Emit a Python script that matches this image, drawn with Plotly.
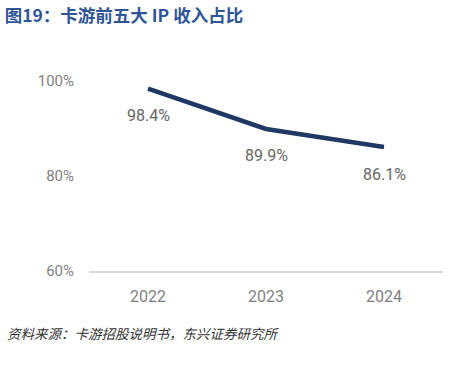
import plotly.graph_objects as go

years = ["2022", "2023", "2024"]
share = [98.4, 89.9, 86.1]
labels = ["98.4%", "89.9%", "86.1%"]
y_ticks = [60, 80, 100]
y_tick_text = ["60%", "80%", "100%"]

xpos = list(range(len(years)))

fig = go.Figure()
fig.add_trace(go.Scatter(
    x=xpos, y=share, mode="lines",
    line=dict(color="#1F3864", width=4.5),
    hoverinfo="skip", showlegend=False,
))
for x, y, t in zip(xpos, share, labels):
    fig.add_annotation(x=x, y=y, text=t, showarrow=False, yshift=-27,
                       font=dict(family="Roboto", size=16, color="#666666"))

fig.update_layout(
    width=471, height=369,
    margin=dict(l=89, r=28, t=81, b=98),
    paper_bgcolor="white", plot_bgcolor="white",
    title=dict(text="<b>图19：卡游前五大 IP 收入占比</b>", x=0.01, xanchor="left",
               y=1 - 16 / 369, yanchor="middle", yref="container",
               font=dict(family="Noto Sans CJK SC", size=17.5, color="#2F5597")),
    xaxis=dict(range=[-0.5, 2.5], tickvals=xpos, ticktext=years, showgrid=False,
               zeroline=False, showline=True, linecolor="#D9D9D9",
               linewidth=2, ticks="", tickfont=dict(family="Roboto", size=16, color="#7F7F7F"),
               ticklabelstandoff=10),
    yaxis=dict(range=[60, 100], tickvals=y_ticks, ticktext=y_tick_text, showgrid=False,
               zeroline=False, showline=False, ticks="",
               tickfont=dict(family="Roboto", size=15, color="#7F7F7F"),
               ticklabelstandoff=14),
)
fig.add_annotation(xref="paper", yref="paper", x=-84 / 354, y=-(333 - 271) / 190,
                   xanchor="left", yanchor="middle", showarrow=False,
                   text="<i>资料来源：卡游招股说明书，东兴证券研究所</i>",
                   font=dict(family="Noto Sans CJK SC", size=13.5, color="#333333"))
fig.write_html("out.html")
